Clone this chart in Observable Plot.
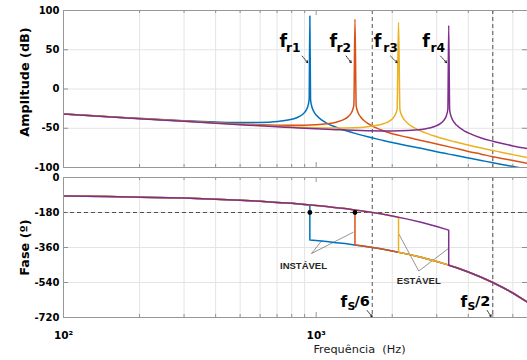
<!DOCTYPE html>
<html><head><meta charset="utf-8">
<script src="https://cdn.jsdelivr.net/npm/d3@7"></script>
<script src="https://cdn.jsdelivr.net/npm/@observablehq/plot@0.6"></script>
<style>
html,body{margin:0;padding:0;background:#fff;}
#chart{width:527px;height:360px;position:relative;overflow:hidden;background:#fff;}
#chart svg{display:block;overflow:visible;background:transparent;}
</style></head><body><div id="chart"></div>
<script>
// ---------- data ----------
const seriesNames = ["fr1", "fr2", "fr3", "fr4"];
const seriesColors = ["#0072BD", "#D95319", "#EDB120", "#7E2F8E"];

// Amplitude (dB) vs frequency (Hz)
const blueF = [100,150,200,300,400,500,600,700,800,850,900,920,930,938,944,950,958,970,990,1000,1050,1100,1200,1400,1600,1800,2000,2300,2600,3000,3500,4000,4500,5000,5500,6000,6900];
const blueDb = [-31.9,-35.2,-37.5,-40.4,-42.0,-42.8,-42.7,-41.5,-38.6,-35.7,-29.8,-24.8,-20.3,-13.0,93,-13.2,-20.6,-26.2,-31.4,-33.2,-39.4,-43.4,-48.8,-55.9,-60.9,-64.8,-68.2,-72.2,-75.6,-80.0,-84.2,-87.8,-91.0,-93.9,-96.4,-98.6,-102.3];
const redF = [100,200,300,400,500,600,700,800,900,1000,1100,1200,1300,1350,1390,1410,1424,1440,1460,1500,1550,1600,1700,1800,2000,2300,2600,3000,3500,4000,4500,5000,5500,6000,6900];
const redDb = [-32.0,-37.7,-40.9,-43.0,-44.5,-45.5,-46.1,-46.3,-46.2,-45.6,-44.4,-42.3,-38.2,-34.1,-27.8,-20.2,89,-21.7,-28.9,-35.7,-40.5,-43.9,-48.6,-52.0,-57.1,-61.5,-65.5,-70.0,-75.0,-79.5,-83.0,-86.2,-88.8,-91.2,-95.0];
const yelF = [100,200,300,400,500,600,700,800,900,1000,1200,1400,1600,1800,1900,2000,2050,2090,2118,2145,2180,2230,2300,2400,2600,3000,3500,4000,4500,5000,5500,6000,6900];
const yelDb = [-32.0,-37.8,-41.1,-43.4,-45.1,-46.4,-47.5,-48.3,-48.9,-49.3,-49.7,-49.4,-48.1,-45.3,-42.8,-38.1,-33.6,-26.1,85,-26.2,-33.6,-39.0,-43.6,-48.0,-53.7,-60.9,-66.9,-71.4,-75.2,-78.3,-81.1,-83.6,-87.5];
const purF = [100,200,300,400,500,600,700,800,900,1000,1200,1400,1600,1800,2000,2300,2600,2800,3000,3100,3200,3280,3320,3346,3375,3420,3500,3600,3800,4000,4500,5000,5500,6000,6900];
const purDb = [-32.0,-37.8,-41.2,-43.6,-45.4,-46.9,-48.1,-49.1,-50.0,-50.7,-51.8,-52.7,-53.2,-53.5,-53.5,-53.0,-51.6,-49.8,-46.7,-44.1,-40.0,-33.4,-25.5,81,-26.6,-34.9,-41.7,-46.3,-52.1,-55.9,-62.4,-66.5,-69.8,-72.5,-76.0];

// Phase (deg): common trace before / after a resonance
const phaseFreq = [100,150,200,300,400,500,600,700,800,900,1000,1100,1200,1300,1400,1500,1600,1800,2000,2300,2600,3000,3300,3600,4000,4500,5000,5500,6000,6900];
const phaseBefore = [-95,-98,-101,-106,-112,-117,-122,-128,-133,-139,-144,-149,-155,-160,-166,-171,-176,-187,-198,-214,-230,-252,-268,-284,-306,-333,-360,-387,-414,-463];
const phaseAfter = [-275,-278,-281,-286,-292,-297,-302,-308,-313,-319,-324,-329,-335,-340,-346,-351,-356,-367,-378,-394,-410,-432,-448,-464,-486,-513,-540,-567,-594,-643];
const resF = [944, 1424, 2118, 3346];
const resPhaseBefore = [-141, -167, -204, -271];
const resPhaseAfter = [-321, -347, -384, -451];
const unstableF = [944, 1424];
const unstablePhase = [-180, -180];

// Reference lines
const fsF = [1667, 5000];
const fsNames = ["/6", "/2"];
const phaseRefLine = [-180];

// Ticks
const ampTicks = [-100, -50, 0, 50, 100];
const ampTickLabels = ["-100", "-50", "0", "50", "100"];
const phaseTicks = [-720, -540, -360, -180, 0];
const phaseTickLabels = ["-720", "-540", "-360", "-180", "0"];
const xTicks = [100, 1000];
const xTickLabels = ["10\u00b2", "10\u00b3"];
const xMinor = [200,300,400,500,600,700,800,900,2000,3000,4000,5000,6000];
const xLabel = "Frequ\u00eancia\u00a0\u00a0(Hz)";
const ampLabel = "Amplitude (dB)";
const phaseLabel = "Fase (\u00ba)";

// Annotation anchors (data coordinates)
const frTextF = [716, 1129, 1690, 2627];
const frSubF = [759, 1203, 1841, 2834];
const frSubText = ["r1", "r2", "r3", "r4"];
const frArrowFrom = [880, 1314, 1968, 3105];
const frArrowTo = [926, 1376, 2092, 3281];
const fsTextF = [1248, 3724];
const fsSubF = [1330, 3971];
const fsTailF = [1418, 4250];
const fsArrowFrom = [1591, 4751];
const fsArrowTo = [1665, 4926];
const stabText = ["INST\u00c1VEL", "EST\u00c1VEL"];
const stabTextF = [891, 2547];
const stabTextPhase = [-453, -530];
const stabHubF = [958, 2547];
const stabHubPhase = [-391, -481];
const stabTargetF = [[1054, 1405], [2123, 3338]];
const stabTargetPhase = [[-324, -281], [-290, -365]];

// ---------- build tables ----------
const ampSeries = [[blueF, blueDb], [redF, redDb], [yelF, yelDb], [purF, purDb]];
const ampRows = [];
ampSeries.forEach(([fs, dbs], i) => fs.forEach((f, j) => ampRows.push({s: seriesNames[i], f, db: dbs[j]})));

const phaseRows = [];
seriesNames.forEach((s, i) => {
  phaseFreq.forEach((f, j) => { if (f < resF[i]) phaseRows.push({s, f, deg: phaseBefore[j]}); });
  phaseRows.push({s, f: resF[i], deg: resPhaseBefore[i]});
  phaseRows.push({s, f: resF[i], deg: resPhaseAfter[i]});
  phaseFreq.forEach((f, j) => { if (f > resF[i]) phaseRows.push({s, f, deg: phaseAfter[j]}); });
});

const frRows = seriesNames.map((s, i) => ({f: frTextF[i], sf: frSubF[i], sub: frSubText[i], a1: frArrowFrom[i], a2: frArrowTo[i]}));
const fsRows = fsF.map((f, i) => ({f: fsTextF[i], sf: fsSubF[i], tf: fsTailF[i], tail: fsNames[i], a1: fsArrowFrom[i], a2: fsArrowTo[i]}));
const stabRows = stabText.map((t, i) => ({t, f: stabTextF[i], p: stabTextPhase[i]}));
const stabLinks = [];
stabText.forEach((t, i) => stabTargetF[i].forEach((tf, k) => stabLinks.push({x1: stabHubF[i], y1: stabHubPhase[i], x2: tf, y2: stabTargetPhase[i][k]})));

// ---------- shared styling ----------
const W = 527, ML = 63, MR = 0;
const xDomain = [100, 6860];
const gridStroke = "#e4e4e4";
const frameStroke = "#979797";
const tickStroke = "#6a6a6a";
const dashStroke = "#404040";
const font = "DejaVu Sans";
const colorScale = {domain: seriesNames, range: seriesColors};

function frameTicks(frameH, yTickVals) {
  return [
    Plot.ruleX(xMinor, {stroke: tickStroke, strokeWidth: 0.7, insetBottom: frameH - 3}),
    Plot.ruleX(xMinor, {stroke: tickStroke, strokeWidth: 0.7, insetTop: frameH - 3}),
    Plot.ruleX(xTicks, {stroke: tickStroke, strokeWidth: 0.7, insetBottom: frameH - 5}),
    Plot.ruleX(xTicks, {stroke: tickStroke, strokeWidth: 0.7, insetTop: frameH - 5}),
    Plot.ruleY(yTickVals, {stroke: tickStroke, strokeWidth: 0.7, insetRight: (W - ML - MR) - 5}),
    Plot.ruleY(yTickVals, {stroke: tickStroke, strokeWidth: 0.7, insetLeft: (W - ML - MR) - 5})
  ];
}

// ---------- amplitude panel ----------
const ampH = 170, ampMT = 10, ampMB = 3;
const amp = Plot.plot({
  width: W, height: ampH, marginLeft: ML, marginRight: MR, marginTop: ampMT, marginBottom: ampMB,
  style: {fontFamily: font, fontSize: "10px", fontWeight: "bold", background: "transparent", color: "#000"},
  x: {type: "log", domain: xDomain, axis: null, label: null},
  y: {domain: [-100, 100], label: null},
  color: colorScale,
  marks: [
    Plot.gridX(xMinor, {stroke: gridStroke, strokeOpacity: 1}),
    Plot.gridY(ampTicks, {stroke: gridStroke, strokeOpacity: 1}),
    Plot.ruleX(fsF, {stroke: dashStroke, strokeWidth: 0.9, strokeDasharray: "4,3"}),
    Plot.line(ampRows, {x: "f", y: "db", z: "s", stroke: "s", strokeWidth: 1.5, curve: "monotone-x", clip: true}),
    Plot.text(frRows, {x: "f", y: () => 61, text: () => "f", textAnchor: "start", lineAnchor: "middle", fontSize: 17.5, fontWeight: "bold", fontFamily: font, fill: "#000"}),
    Plot.text(frRows, {x: "sf", y: () => 51.6, text: "sub", textAnchor: "start", lineAnchor: "middle", fontSize: 12.3, fontWeight: "bold", fontFamily: font, fill: "#000"}),
    Plot.arrow(frRows, {x1: "a1", y1: () => 42, x2: "a2", y2: () => 33.5, stroke: "#000", strokeWidth: 0.8, strokeDasharray: "1.5,1", headLength: 4}),
    ...frameTicks(ampH - ampMT - ampMB, ampTicks.slice(1, -1)),
    Plot.frame({stroke: frameStroke}),
    Plot.axisY(ampTicks, {tickSize: 0, tickPadding: 4, tickFormat: d => ampTickLabels[ampTicks.indexOf(d)], label: null, fontSize: 10, fontWeight: "bold", fontFamily: font}),
    Plot.text([ampLabel], {text: d => d, frameAnchor: "left", rotate: -90, dx: -39, dy: -7, textAnchor: "middle", lineAnchor: "middle", fontSize: 12.8, fontWeight: "bold", fontFamily: font, fill: "#000"})
  ]
});

// ---------- phase panel ----------
const phH = 190, phMT = 7, phMB = 43;
const phase = Plot.plot({
  width: W, height: phH, marginLeft: ML, marginRight: MR, marginTop: phMT, marginBottom: phMB,
  style: {fontFamily: font, fontSize: "10px", fontWeight: "bold", background: "transparent", color: "#000"},
  x: {type: "log", domain: xDomain, label: null},
  y: {domain: [-720, 0], label: null},
  color: colorScale,
  marks: [
    Plot.gridX(xMinor, {stroke: gridStroke, strokeOpacity: 1}),
    Plot.gridY(phaseTicks, {stroke: gridStroke, strokeOpacity: 1}),
    Plot.ruleX(fsF, {stroke: dashStroke, strokeWidth: 0.9, strokeDasharray: "4,3"}),
    Plot.ruleY(phaseRefLine, {stroke: dashStroke, strokeWidth: 0.9, strokeDasharray: "4,3"}),
    Plot.link(stabLinks, {x1: "x1", y1: "y1", x2: "x2", y2: "y2", stroke: "#4d4d4d", strokeWidth: 0.6}),
    Plot.line(phaseRows, {x: "f", y: "deg", z: "s", stroke: "s", strokeWidth: 1.5, clip: true}),
    Plot.dot(unstableF.map((f, i) => ({f, p: unstablePhase[i]})), {x: "f", y: "p", r: 2.4, fill: "#000", stroke: "none"}),
    Plot.text(stabRows, {x: "f", y: "p", text: "t", fontSize: 9.5, fontWeight: "bold", fontFamily: "Liberation Sans", fill: "#262626", lineAnchor: "middle"}),
    Plot.text(fsRows, {x: "f", y: () => -638, text: () => "f", textAnchor: "start", lineAnchor: "middle", fontSize: 15.5, fontWeight: "bold", fontFamily: font, fill: "#000"}),
    Plot.text(fsRows, {x: "sf", y: () => -664, text: () => "S", textAnchor: "start", lineAnchor: "middle", fontSize: 11, fontWeight: "bold", fontFamily: font, fill: "#000"}),
    Plot.text(fsRows, {x: "tf", y: () => -638, text: "tail", textAnchor: "start", lineAnchor: "middle", fontSize: 14.5, fontWeight: "bold", fontFamily: font, fill: "#000"}),
    Plot.arrow(fsRows, {x1: "a1", y1: () => -684, x2: "a2", y2: () => -716, stroke: "#000", strokeWidth: 0.8, strokeDasharray: "1.5,1", headLength: 4}),
    ...frameTicks(phH - phMT - phMB, phaseTicks.slice(1, -1)),
    Plot.frame({stroke: frameStroke}),
    Plot.axisY(phaseTicks, {tickSize: 0, tickPadding: 4, tickFormat: d => phaseTickLabels[phaseTicks.indexOf(d)], label: null, fontSize: 10, fontWeight: "bold", fontFamily: font}),
    Plot.axisX(xTicks, {tickSize: 0, tickPadding: 14, tickFormat: d => xTickLabels[xTicks.indexOf(d)], label: null, fontSize: 10.5, fontWeight: "bold", fontFamily: font}),
    Plot.text([phaseLabel], {text: d => d, frameAnchor: "left", rotate: -90, dx: -39, textAnchor: "middle", lineAnchor: "middle", fontSize: 12.8, fontWeight: "bold", fontFamily: font, fill: "#000"}),
    Plot.text([{f: 1484, t: xLabel}], {x: "f", text: "t", frameAnchor: "bottom", dy: 31.4, textAnchor: "middle", lineAnchor: "middle", fontSize: 11.3, fontWeight: "normal", fontFamily: font, fill: "#1a1a1a"})
  ]
});

const root = document.getElementById("chart");
root.appendChild(amp);
root.appendChild(phase);
</script></body></html>
